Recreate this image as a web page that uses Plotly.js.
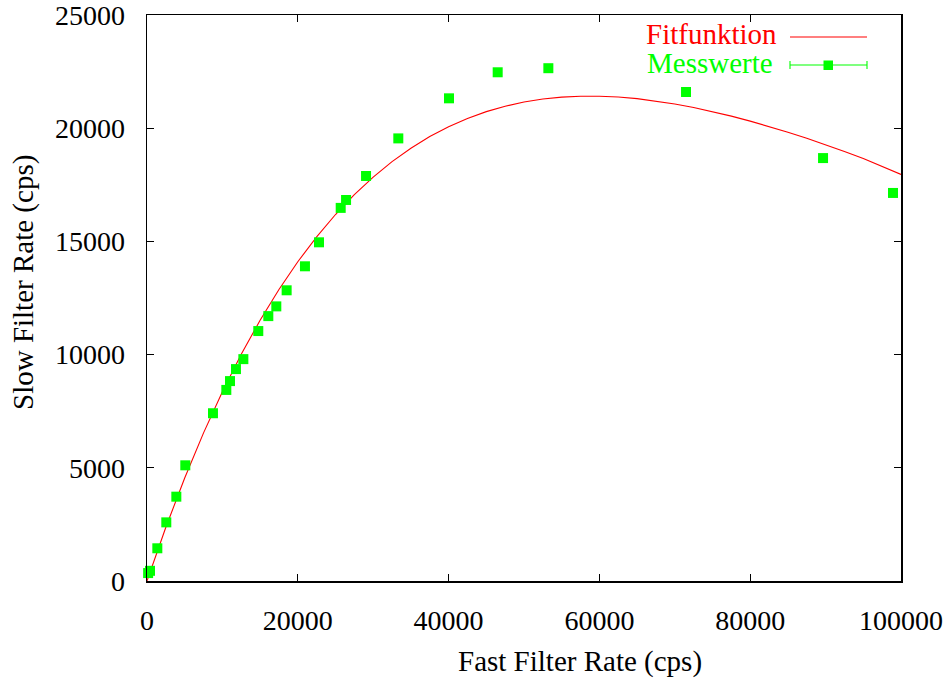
<!DOCTYPE html>
<html>
<head>
<meta charset="utf-8">
<script src="https://cdn.plot.ly/plotly-3.0.1.min.js"></script>
<style>html,body{margin:0;padding:0;background:#fff;}#chart{width:948px;height:680px;}</style>
</head>
<body>
<div id="chart"></div>
<script>
// Measured values (Messwerte)
const fastRate = [150, 400, 1370, 2560, 3890, 5080, 8750, 10520, 11010, 11800, 12780, 14760, 16090, 17150, 18520, 20950, 22810, 25690, 26400, 29050, 33330, 40050, 46510, 53230, 71490, 89660, 98940];
const slowRate = [350, 450, 1445, 2590, 3725, 5110, 7410, 8440, 8830, 9360, 9800, 11040, 11700, 12130, 12840, 13900, 14960, 16480, 16830, 17890, 19550, 21320, 22470, 22650, 21600, 18680, 17140];

// Fit curve (Fitfunktion)
const fitX = [0, 1000, 2500, 5000, 7500, 10000, 12500, 15000, 17500, 20000, 22500, 25000, 27500, 30000, 32500, 35000, 37500, 40000, 42500, 45000, 47500, 50000, 52500, 55000, 57500, 60000, 62500, 65000, 67500, 70000, 72500, 75000, 77500, 80000, 82500, 85000, 87500, 90000, 92500, 95000, 97500, 100000];
const fitY = [0, 974, 2374, 4551, 6542, 8359, 10014, 11515, 12875, 14101, 15202, 16188, 17066, 17841, 18523, 19117, 19629, 20065, 20431, 20732, 20971, 21156, 21288, 21373, 21413, 21413, 21377, 21306, 21203, 21072, 20916, 20735, 20534, 20313, 20074, 19821, 19554, 19275, 18975, 18665, 18320, 17960];

const xTicks = [0, 20000, 40000, 60000, 80000, 100000];
const yTicks = [0, 5000, 10000, 15000, 20000, 25000];
const xTitle = 'Fast Filter Rate (cps)';
const yTitle = 'Slow Filter Rate (cps)';
const fitName = 'Fitfunktion';
const dataName = 'Messwerte';

const FONT = '"Liberation Serif"';
const RED = '#ff0000';
const GREEN = '#00ff00';

const L = 147, R = 901, T = 15, B = 581;
const W = R - L, H = B - T;
const px = (p) => (p - L) / W;   // pixel x -> paper
const py = (p) => (B - p) / H;   // pixel y -> paper

const traces = [
  {x: fitX, y: fitY, type: 'scatter', mode: 'lines', name: fitName,
   line: {color: RED, width: 1.1}, showlegend: false, cliponaxis: false},
  {x: fastRate, y: slowRate, type: 'scatter', mode: 'markers', name: dataName,
   marker: {symbol: 'square', size: 10, color: GREEN}, showlegend: false, cliponaxis: false}
];

const axisCommon = {
  showgrid: false, zeroline: false, showline: true, linecolor: '#000', linewidth: 1.5,
  mirror: 'ticks', ticks: 'inside', ticklen: 7, tickwidth: 1.2, tickcolor: '#000',
  tickfont: {family: FONT, size: 28, color: '#000'}, tickmode: 'array',
  ticklabeloverflow: 'allow'
};

const layout = {
  width: 948, height: 680,
  margin: {l: L, r: 948 - R, t: T, b: 680 - B, pad: 0},
  paper_bgcolor: '#fff', plot_bgcolor: '#fff',
  showlegend: false,
  font: {family: FONT},
  xaxis: Object.assign({}, axisCommon, {range: [0, 100000], tickvals: xTicks, ticktext: xTicks.map(String), ticklabelstandoff: 14}),
  yaxis: Object.assign({}, axisCommon, {range: [0, 25000], tickvals: yTicks, ticktext: yTicks.map(String), ticklabelstandoff: 15}),
  annotations: [
    {text: xTitle, xref: 'paper', yref: 'paper', x: px(580), y: py(661), xanchor: 'center', yanchor: 'middle',
     showarrow: false, font: {family: FONT, size: 29, color: '#000'}},
    {text: yTitle, xref: 'paper', yref: 'paper', x: px(23), y: py(283), xanchor: 'center', yanchor: 'middle',
     textangle: -90, showarrow: false, font: {family: FONT, size: 29, color: '#000'}},
    {text: fitName, xref: 'paper', yref: 'paper', x: px(779), y: py(34), xanchor: 'right', yanchor: 'middle',
     showarrow: false, font: {family: FONT, size: 29, color: RED}},
    {text: dataName, xref: 'paper', yref: 'paper', x: px(775), y: py(63), xanchor: 'right', yanchor: 'middle',
     showarrow: false, font: {family: FONT, size: 29, color: GREEN}}
  ],
  shapes: [
    {type: 'line', xref: 'paper', yref: 'paper', x0: px(790), x1: px(867), y0: py(37), y1: py(37), line: {color: RED, width: 1.1}},
    {type: 'line', xref: 'paper', yref: 'paper', x0: px(790), x1: px(867), y0: py(65), y1: py(65), line: {color: GREEN, width: 1.1}},
    {type: 'line', xref: 'paper', yref: 'paper', x0: px(790), x1: px(790), y0: py(61), y1: py(69), line: {color: GREEN, width: 1.1}},
    {type: 'line', xref: 'paper', yref: 'paper', x0: px(867), x1: px(867), y0: py(61), y1: py(69), line: {color: GREEN, width: 1.1}},
    {type: 'rect', xref: 'paper', yref: 'paper', x0: px(823.5), x1: px(833), y0: py(60.5), y1: py(70), fillcolor: GREEN, line: {width: 0}}
  ]
};

Plotly.newPlot('chart', traces, layout, {staticPlot: true, displayModeBar: false});
</script>
</body>
</html>
